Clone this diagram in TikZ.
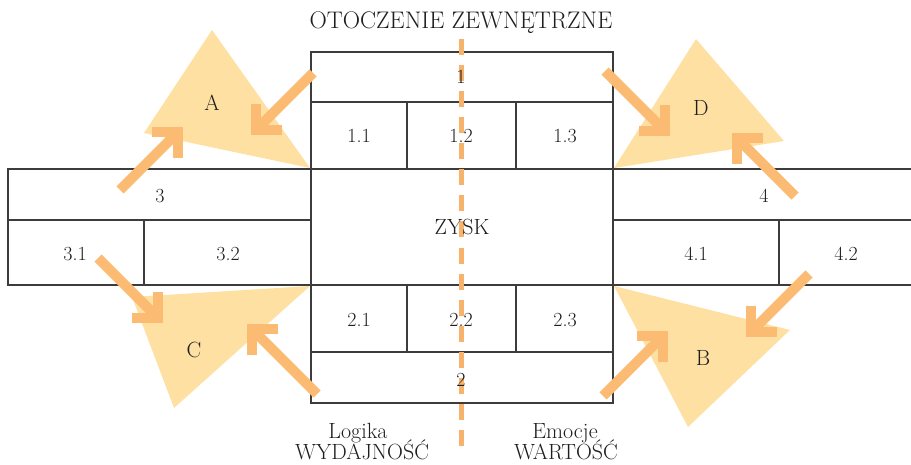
\documentclass[tikz,border=0pt]{standalone}
\usepackage{fontspec}
\usetikzlibrary{calc}
\definecolor{tri}{RGB}{255,224,163}
\definecolor{arr}{RGB}{251,187,115}
\definecolor{dsh}{RGB}{247,178,108}
\definecolor{ln}{RGB}{60,60,60}
\definecolor{txt}{RGB}{30,30,30}
\tikzset{
  box/.style={draw=ln, line width=1.2pt},
  tritone/.style={fill=tri, draw=none},
  arrsty/.style={draw=arr, line width=10pt, line cap=butt, line join=miter},
  lbl/.style={inner sep=0pt, text=txt, font=\fontsize{20}{24}\selectfont},
  wlbl/.style={inner sep=0pt, text=txt, font=\fontsize{22}{26}\selectfont},
  divline/.style={draw=dsh, line width=5pt, dash pattern=on 16pt off 10.07pt},
}
\begin{document}
\begin{tikzpicture}[x=1pt, y=-1pt]
\useasboundingbox (0,0) rectangle (911,465);
\begin{scope}
\clip (0,0) rectangle (911,465);
% central block
\draw[box] (311,52) rectangle (613,403);
\draw[box] (311,102) -- (613,102);
\draw[box] (311,169) -- (613,169);
\draw[box] (311,285) -- (613,285);
\draw[box] (311,352) -- (613,352);
\draw[box] (407,102) -- (407,169);
\draw[box] (516,102) -- (516,169);
\draw[box] (407,285) -- (407,352);
\draw[box] (516,285) -- (516,352);
% left block
\draw[box] (8,169) rectangle (311,285);
\draw[box] (8,220) -- (311,220);
\draw[box] (144,220) -- (144,285);
% right block
\draw[box] (613,169) rectangle (915,285);
\draw[box] (613,220) -- (915,220);
\draw[box] (779,220) -- (779,285);
% triangles
\fill[tritone] (212,30) -- (144,133) -- (310,168) -- cycle;
\fill[tritone] (696,39) -- (784,141) -- (614,168) -- cycle;
\fill[tritone] (310,286) -- (132,297) -- (174,408) -- cycle;
\fill[tritone] (614,286) -- (790,330) -- (688,427) -- cycle;
% dashed divider
\coordinate (dtop) at (461,39);
\coordinate (dbot) at (461,446);
\draw[divline] (dtop) -- (dbot);
% arrows: start (s), corner (c)
\coordinate (s1) at (120,190); \coordinate (c1) at (178,132);
\coordinate (s2) at (313,73);  \coordinate (c2) at (256,130);
\coordinate (s3) at (605,71);  \coordinate (c3) at (665,131);
\coordinate (s4) at (795,196); \coordinate (c4) at (737,138);
\coordinate (s5) at (98,258);  \coordinate (c5) at (158,318);
\coordinate (s6) at (317,394); \coordinate (c6) at (252,329);
\coordinate (s7) at (603,396); \coordinate (c7) at (663,336);
\coordinate (s8) at (809,274); \coordinate (c8) at (751,332);
\draw[arrsty] (s1) -- (c1); \draw[arrsty] ($(c1)+(-26,0)$) -- (c1) -- ++(0,26);
\draw[arrsty] (s2) -- (c2); \draw[arrsty] ($(c2)+(26,0)$) -- (c2) -- ++(0,-26);
\draw[arrsty] (s3) -- (c3); \draw[arrsty] ($(c3)+(-26,0)$) -- (c3) -- ++(0,-26);
\draw[arrsty] (s4) -- (c4); \draw[arrsty] ($(c4)+(26,0)$) -- (c4) -- ++(0,26);
\draw[arrsty] (s5) -- (c5); \draw[arrsty] ($(c5)+(-26,0)$) -- (c5) -- ++(0,-26);
\draw[arrsty] (s6) -- (c6); \draw[arrsty] ($(c6)+(26,0)$) -- (c6) -- ++(0,26);
\draw[arrsty] (s7) -- (c7); \draw[arrsty] ($(c7)+(-26,0)$) -- (c7) -- ++(0,26);
\draw[arrsty] (s8) -- (c8); \draw[arrsty] ($(c8)+(26,0)$) -- (c8) -- ++(0,-26);
% labels
\node[wlbl, anchor=base, font=\fontsize{24}{28}\selectfont] (title) at (461,29) {OTOCZENIE ZEWNĘTRZNE};
\node[lbl] (n1) at (461,77) {1};
\node[lbl] (n11) at (359,136) {1.1};
\node[lbl] (n12) at (461,136) {1.2};
\node[lbl] (n13) at (565,136) {1.3};
\node[wlbl] (zysk) at (462,227) {ZYSK};
\node[lbl] (n21) at (359,320) {2.1};
\node[lbl] (n22) at (461,320) {2.2};
\node[lbl] (n23) at (565,320) {2.3};
\node[lbl] (n2) at (461,380) {2};
\node[lbl] (n3) at (160,196) {3};
\node[lbl] (n31) at (75,254) {3.1};
\node[lbl] (n32) at (228,254) {3.2};
\node[lbl] (n4) at (764,196) {4};
\node[lbl] (n41) at (696,254) {4.1};
\node[lbl] (n42) at (846,254) {4.2};
\node[wlbl] (tA) at (212,103) {A};
\node[wlbl] (tD) at (701,108) {D};
\node[wlbl] (tC) at (194,350) {C};
\node[wlbl] (tB) at (703,358) {B};
\node[wlbl, anchor=base] (logika) at (358,438) {Logika};
\node[wlbl, anchor=base] (wyd) at (362,459) {WYDAJNOŚĆ};
\node[wlbl, anchor=base] (emocje) at (565,438) {Emocje};
\node[wlbl, anchor=base] (wart) at (566,459) {WARTOŚĆ};
\end{scope}
\end{tikzpicture}
\end{document}
